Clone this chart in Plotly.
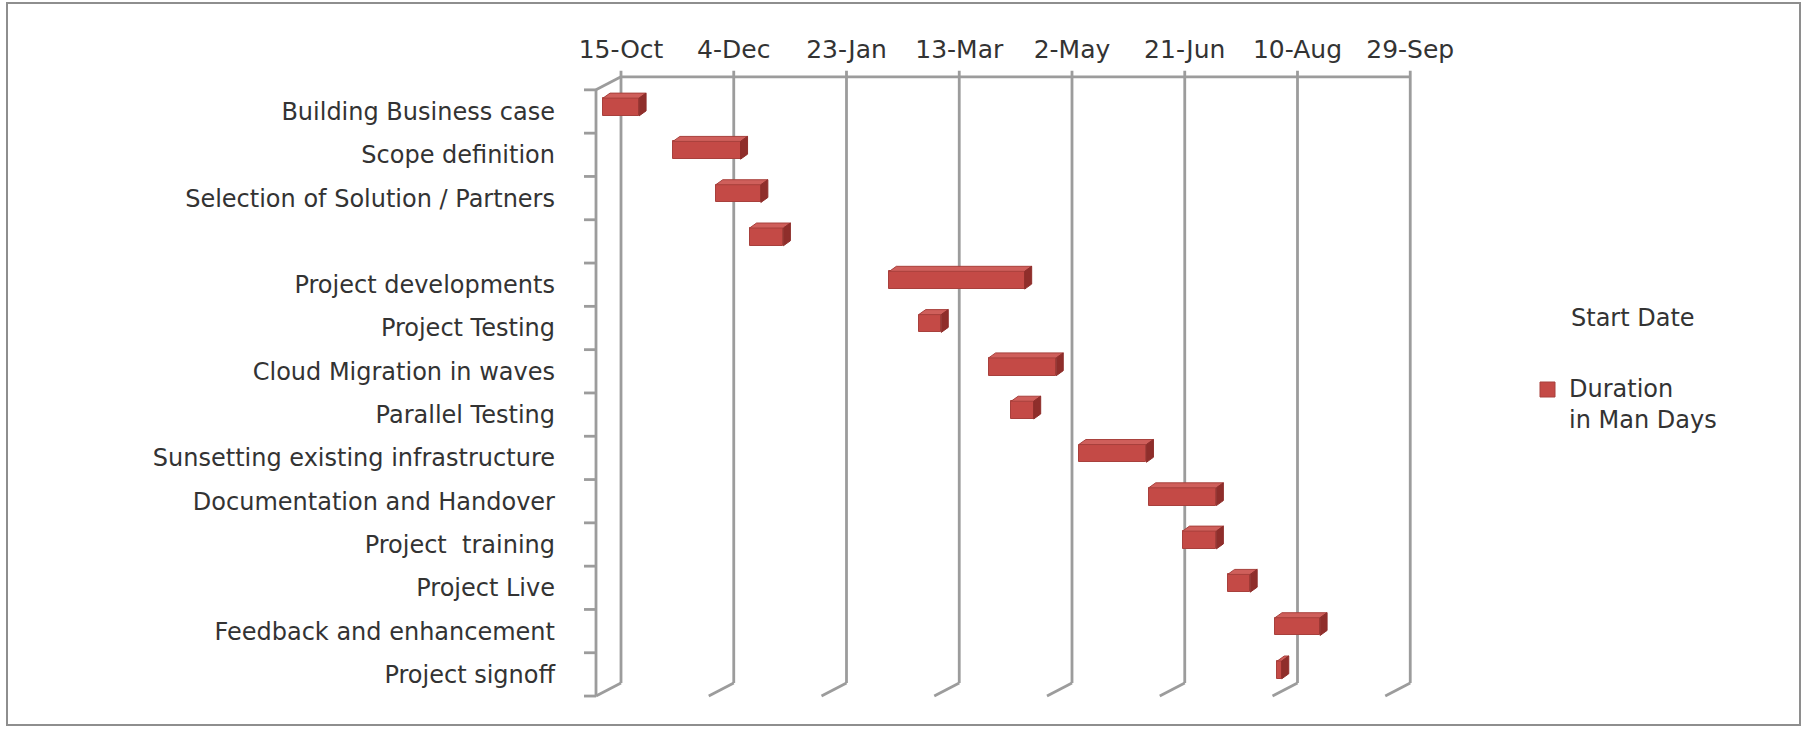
import pandas as pd
import plotly.graph_objects as go

# ---------------- data ----------------
tasks = [
    "Building Business case",
    "Scope definition",
    "Selection of Solution / Partners",
    "",
    "Project developments",
    "Project Testing",
    "Cloud Migration in waves",
    "Parallel Testing",
    "Sunsetting existing infrastructure",
    "Documentation and Handover",
    "Project  training",
    "Project Live",
    "Feedback and enhancement",
    "Project signoff",
]
start_dates = [
    "2019-10-15", "2019-11-15", "2019-12-04", "2019-12-19", "2020-02-19",
    "2020-03-03", "2020-04-03", "2020-04-13", "2020-05-13", "2020-06-13",
    "2020-06-28", "2020-07-18", "2020-08-08", "2020-08-09",
]
durations = [16, 30, 20, 15, 60, 10, 30, 10, 30, 30, 15, 10, 20, 2]

tick_dates = ["2019-10-15", "2019-12-04", "2020-01-23", "2020-03-13",
              "2020-05-02", "2020-06-21", "2020-08-10", "2020-09-29"]
tick_labels = ["15-Oct", "4-Dec", "23-Jan", "13-Mar", "2-May", "21-Jun", "10-Aug", "29-Sep"]

legend_start = "Start Date"
legend_dur = "Duration<br>in Man Days"

# ---------------- geometry (pixels) ----------------
W, H = 1805, 729
L, R, T, B = 560, 1460, 64, 712
PX_PER_DAY = 2.255
PX_PER_ROW = 43.3
X0_PX = 603      # pixel of axis origin on the bar front plane
Y0_PX = 107      # pixel of row 0 centre on the bar front plane
PLANES = {"bar": (0, 0), "back": (18, -8.5), "front": (-7, 4.5)}
DEPTH = (7, 5)   # extrusion of the bar (right, up)
BAR_W = 0.41

origin = pd.Timestamp(tick_dates[0])


def to_date(days):
    return (origin + pd.Timedelta(days=days)).strftime("%Y-%m-%d %H:%M:%S.%f")


def pt(days, row, plane="bar", ex=0.0, ey=0.0):
    dx, dy = PLANES[plane]
    return to_date(days + (dx + ex) / PX_PER_DAY), row + (dy + ey) / PX_PER_ROW


x_lo = (L - X0_PX) / PX_PER_DAY
x_hi = (R - X0_PX) / PX_PER_DAY
y_top = (T - Y0_PX) / PX_PER_ROW
y_bot = (B - Y0_PX) / PX_PER_ROW

rows = list(range(len(tasks)))
start_days = [(pd.Timestamp(s) - origin).days for s in start_dates]
end_days = [s + d for s, d in zip(start_days, durations)]
tick_days = [(pd.Timestamp(t) - origin).days for t in tick_dates]

RED = "#c44a46"
RED_TOP = "#cf5f5b"
RED_SIDE = "#8f2e2b"
EDGE = "#a8403c"
GRID = "#9c9c9c"
TXT = "#333333"
FONT = "DejaVu Sans"

fig = go.Figure()

# front faces of the bars
fig.add_trace(go.Bar(
    y=rows,
    x=[d * 86400000 for d in durations],
    base=start_dates,
    orientation="h",
    width=BAR_W,
    marker=dict(color=RED, line=dict(color=EDGE, width=1)),
    showlegend=False,
    hoverinfo="skip",
))

# 3-D extrusion faces (top and right side), built from the same data
ddx = DEPTH[0] / PX_PER_DAY
ddy = DEPTH[1] / PX_PER_ROW
tx, ty, sx, sy = [], [], [], []
for r, s, e in zip(rows, start_days, end_days):
    top = r - BAR_W / 2
    bot = r + BAR_W / 2
    for xx, yy in [(s, top), (s + ddx, top - ddy), (e + ddx, top - ddy), (e, top), (s, top)]:
        tx.append(to_date(xx)); ty.append(yy)
    tx.append(None); ty.append(None)
    for xx, yy in [(e, top), (e + ddx, top - ddy), (e + ddx, bot - ddy), (e, bot), (e, top)]:
        sx.append(to_date(xx)); sy.append(yy)
    sx.append(None); sy.append(None)

fig.add_trace(go.Scatter(x=tx, y=ty, fill="toself", fillcolor=RED_TOP, mode="lines",
                         line=dict(color=EDGE, width=1), showlegend=False, hoverinfo="skip"))
fig.add_trace(go.Scatter(x=sx, y=sy, fill="toself", fillcolor=RED_SIDE, mode="lines",
                         line=dict(color=RED_SIDE, width=1), showlegend=False, hoverinfo="skip"))

# invisible trace carrying the label axes
fig.add_trace(go.Scatter(x=[tick_dates[0]], y=[0], xaxis="x2", yaxis="y2", mode="markers",
                         marker=dict(opacity=0), showlegend=False, hoverinfo="skip"))

# ---------------- 3-D frame ----------------
shapes = []


def line(p0, p1, color=GRID, width=2.8):
    shapes.append(dict(type="line", xref="x", yref="y", x0=p0[0], y0=p0[1], x1=p1[0], y1=p1[1],
                       line=dict(color=color, width=width), layer="below"))


first, last = tick_days[0], tick_days[-1]
top_row, bot_row = -0.5, len(tasks) - 0.5
for d in tick_days:
    line(pt(d, top_row, "back", ey=-6), pt(d, bot_row, "back"))
    line(pt(d, bot_row, "back"), pt(d, bot_row, "front"))
line(pt(first, top_row, "back"), pt(last, top_row, "back"))
line(pt(first, top_row, "back"), pt(first, top_row, "front"))
line(pt(first, top_row, "front"), pt(first, bot_row, "front"))
for k in range(len(tasks) + 1):
    line(pt(first, k - 0.5, "front", ex=-12), pt(first, k - 0.5, "front"))


def px_x(p):
    return (p - L) / (R - L)


def px_y(p):
    return (B - p) / (B - T)


# outer border
shapes.append(dict(type="rect", xref="paper", yref="paper",
                   x0=px_x(7), x1=px_x(1800), y0=px_y(725), y1=px_y(3),
                   line=dict(color="#8e8e8e", width=2), layer="below"))
# legend key
shapes.append(dict(type="rect", xref="paper", yref="paper",
                   x0=px_x(1540), x1=px_x(1555), y0=px_y(397), y1=px_y(382),
                   fillcolor=RED, line=dict(color=EDGE, width=1)))

annotations = [
    dict(xref="paper", yref="paper", x=px_x(1569), y=px_y(318), text=legend_start,
         showarrow=False, xanchor="left", yanchor="middle", align="left",
         font=dict(family=FONT, size=24, color=TXT)),
    dict(xref="paper", yref="paper", x=px_x(1567), y=px_y(404), text=legend_dur,
         showarrow=False, xanchor="left", yanchor="middle", align="left",
         font=dict(family=FONT, size=24, color=TXT)),
]

back_shift = PLANES["back"][0] / PX_PER_DAY
front_shift = PLANES["front"][1] / PX_PER_ROW

fig.update_layout(
    width=W, height=H,
    margin=dict(l=L, r=W - R, t=T, b=H - B),
    paper_bgcolor="white", plot_bgcolor="white",
    showlegend=False,
    shapes=shapes,
    annotations=annotations,
    bargap=0,
    xaxis=dict(type="date", range=[to_date(x_lo), to_date(x_hi)], visible=False,
               showgrid=False, zeroline=False),
    yaxis=dict(range=[y_bot, y_top], visible=False, showgrid=False, zeroline=False),
    xaxis2=dict(type="date", overlaying="x", side="top", anchor="y2",
                range=[to_date(x_lo - back_shift), to_date(x_hi - back_shift)],
                tickvals=tick_dates, ticktext=tick_labels, showgrid=False, zeroline=False,
                showline=False, ticks="", ticklabelstandoff=0,
                tickfont=dict(family=FONT, size=25, color=TXT)),
    yaxis2=dict(overlaying="y", side="left", anchor="x2",
                range=[y_bot - front_shift, y_top - front_shift],
                tickvals=rows, ticktext=tasks, showgrid=False, zeroline=False,
                showline=False, ticks="", ticklabelstandoff=4,
                tickfont=dict(family=FONT, size=24, color=TXT)),
)

fig.write_html("out.html")
